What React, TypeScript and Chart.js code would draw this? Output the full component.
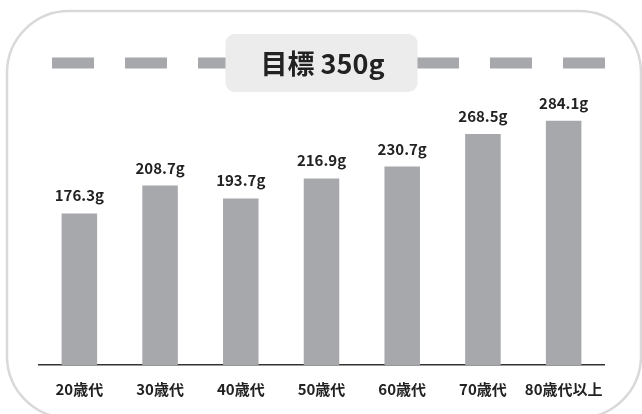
import React, { useEffect, useRef } from "react";
import { Chart, registerables } from "chart.js";

Chart.register(...registerables);

const categories = ["20歳代", "30歳代", "40歳代", "50歳代", "60歳代", "70歳代", "80歳代以上"];
const values = [176.3, 208.7, 193.7, 216.9, 230.7, 268.5, 284.1];
const targetValue = 350;
const targetLabel = "目標 350g";
const yMin = 0;
const yMax = 400;

const FONT = '"Noto Sans CJK JP", "Noto Sans", sans-serif';
const BAR = "#a7a8ac";
const TEXT = "#222222";

function roundRect(ctx: CanvasRenderingContext2D, x: number, y: number, w: number, h: number, r: number) {
  ctx.beginPath();
  ctx.moveTo(x + r, y);
  ctx.lineTo(x + w - r, y);
  ctx.arcTo(x + w, y, x + w, y + r, r);
  ctx.lineTo(x + w, y + h - r);
  ctx.arcTo(x + w, y + h, x + w - r, y + h, r);
  ctx.lineTo(x + r, y + h);
  ctx.arcTo(x, y + h, x, y + h - r, r);
  ctx.lineTo(x, y + r);
  ctx.arcTo(x, y, x + r, y, r);
  ctx.closePath();
}

const decorPlugin = {
  id: "decor",
  beforeDraw(chart: any) {
    const ctx = chart.ctx as CanvasRenderingContext2D;
    ctx.save();
    ctx.fillStyle = "#ffffff";
    ctx.fillRect(0, 0, chart.width, chart.height);
    ctx.strokeStyle = "#d9d9d9";
    ctx.lineWidth = 2.5;
    roundRect(ctx, 7, 11, 634, 407, 62);
    ctx.stroke();
    ctx.restore();
  },
  afterDatasetsDraw(chart: any) {
    const ctx = chart.ctx as CanvasRenderingContext2D;
    const area = chart.chartArea;
    const yScale = chart.scales.y;
    const ty = yScale.getPixelForValue(targetValue) - 1;
    ctx.save();
    // dashed target line
    ctx.strokeStyle = BAR;
    ctx.lineWidth = 11;
    ctx.lineCap = "butt";
    ctx.setLineDash([42, 31]);
    ctx.beginPath();
    ctx.moveTo(area.left + 13, ty);
    ctx.lineTo(area.right + 1, ty);
    ctx.stroke();
    ctx.setLineDash([]);
    // label box
    const cx = (area.left + area.right) / 2;
    const bw = 192;
    const bh = 58;
    ctx.fillStyle = "#ececed";
    roundRect(ctx, cx - bw / 2, ty - bh / 2, bw, bh, 9);
    ctx.fill();
    ctx.fillStyle = TEXT;
    ctx.font = `bold 27px ${FONT}`;
    ctx.textAlign = "center";
    ctx.textBaseline = "middle";
    ctx.fillText(targetLabel, cx + 1, ty + 1);
    // value labels
    const meta = chart.getDatasetMeta(0);
    ctx.font = `bold 15px ${FONT}`;
    ctx.textBaseline = "alphabetic";
    meta.data.forEach((bar: any, i: number) => {
      ctx.fillText(values[i].toFixed(1) + "g", bar.x, bar.y - 12);
    });
    ctx.restore();
  },
};

export default function App() {
  const ref = useRef<HTMLCanvasElement | null>(null);
  useEffect(() => {
    if (!ref.current) return;
    const chart = new Chart(ref.current, {
      type: "bar",
      data: {
        labels: categories,
        datasets: [
          {
            data: values,
            backgroundColor: BAR,
            borderWidth: 0,
            categoryPercentage: 1,
            barPercentage: 0.44,
          },
        ],
      },
      options: {
        responsive: false,
        animation: false,
        layout: { padding: { left: 39, right: 38, top: 21, bottom: 0 } },
        plugins: { legend: { display: false }, tooltip: { enabled: false } },
        scales: {
          x: {
            grid: { display: false, drawTicks: false },
            border: { display: true, color: "#333333", width: 1.5 },
            ticks: {
              color: TEXT,
              font: { family: FONT, size: 15, weight: "bold" },
              padding: 15,
              maxRotation: 0,
              autoSkip: false,
            },
            afterFit(scale: any) {
              scale.height = 49;
            },
          },
          y: { display: false, min: yMin, max: yMax },
        },
      },
      plugins: [decorPlugin],
    });
    return () => chart.destroy();
  }, []);
  return (
    <div style={{ position: "fixed", left: 0, top: 0, width: 642, height: 414 }}>
      <canvas ref={ref} width={642} height={414} />
    </div>
  );
}
